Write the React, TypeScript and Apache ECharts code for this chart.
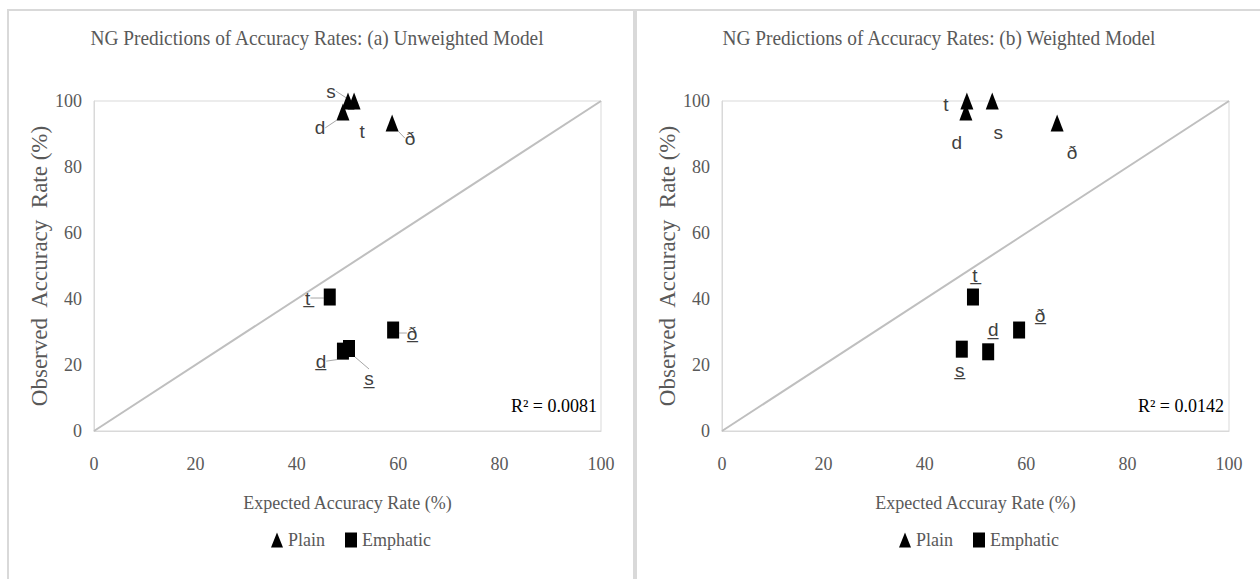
import React, { useEffect, useRef } from "react";
import * as echarts from "echarts";

// ---------- data ----------
const axisTicks = [0, 20, 40, 60, 80, 100];

// (a) Unweighted model
const unwPlainX = [50.1, 51.3, 49.1, 58.8];
const unwPlainY = [100, 100, 96.7, 93.3];
const unwPlainLabels = ["s", "t", "d", "ð"];
const unwEmphX = [46.5, 59.0, 49.1, 50.3];
const unwEmphY = [40.6, 30.6, 24.2, 25.0];
const unwEmphLabels = ["t\u0332", "ð\u0332", "d\u0332", "s\u0332"];
const unwR2 = "R² = 0.0081";

// (b) Weighted model
const wPlainX = [48.3, 48.1, 53.3, 66.1];
const wPlainY = [100, 96.7, 100, 93.3];
const wPlainLabels = ["t", "d", "s", "ð"];
const wEmphX = [49.5, 47.3, 52.5, 58.6];
const wEmphY = [40.6, 24.8, 24.0, 30.6];
const wEmphLabels = ["t\u0332", "s\u0332", "d\u0332", "ð\u0332"];
const wR2 = "R² = 0.0142";

const diagonal = [
  [0, 0],
  [100, 100],
];

const titles = [
  "NG Predictions of Accuracy Rates: (a) Unweighted Model",
  "NG Predictions of Accuracy Rates: (b) Weighted Model",
];
const xNames = ["Expected Accuracy Rate (%)", "Expected Accuray Rate (%)"];
const yName = "Observed  Accuracy  Rate (%)";

// ---------- styling (label offsets etc.) ----------
const unwPlainOff = [[-17, -10], [8, 30], [-23, 16], [18, 15]];
const unwPlainLead = [true, false, true, true];
const unwEmphOff = [[-22, 1], [19, 3], [-22, 10], [20, 30]];
const unwEmphLead = [true, true, true, true];
const wPlainOff = [[-21, 3], [-9, 31], [6, 31], [15, 29]];
const wEmphOff = [[2, -22], [-2, 21], [5, -22], [21, -15]];
const noLead = [false, false, false, false];

const SERIF = "'Liberation Serif', 'Times New Roman', serif";
const SANS = "'Liberation Sans', Arial, sans-serif";
const GRAY = "#595959";
const LINE = "#d9d9d9";

function makeScatter(
  name: string,
  symbol: string,
  size: number[],
  xs: number[],
  ys: number[],
  labels: string[],
  offs: number[][],
  leads: boolean[],
  idx: number
) {
  return {
    type: "scatter",
    name,
    xAxisIndex: idx,
    yAxisIndex: idx,
    symbol,
    symbolSize: size,
    itemStyle: { color: "#000", opacity: 1 },
    z: 5,
    label: {
      show: true,
      position: "inside",
      fontFamily: SANS,
      fontSize: 19,
      color: "#404040",
      formatter: (p: any) => labels[p.dataIndex],
    },
    labelLine: { show: true, lineStyle: { color: "#a6a6a6", width: 1 } },
    labelLayout: (p: any) => ({ dx: offs[p.dataIndex][0], dy: offs[p.dataIndex][1] }),
    data: xs.map((x, i) => ({
      value: [x, ys[i]],
      labelLine: { show: leads[i] },
    })),
  };
}

export default function App() {
  const ref = useRef<HTMLDivElement>(null);
  useEffect(() => {
    if (!ref.current) return;
    const chart = echarts.init(ref.current, undefined, { renderer: "svg" });
    const grids = [
      { left: 94, top: 101, width: 507, height: 330 },
      { left: 722, top: 101, width: 507, height: 330 },
    ];
    const xAxes = grids.map((_, i) => ({
      type: "value",
      gridIndex: i,
      min: axisTicks[0],
      max: axisTicks[axisTicks.length - 1],
      interval: axisTicks[1] - axisTicks[0],
      axisLine: { show: true, lineStyle: { color: LINE } },
      axisTick: { show: false },
      splitLine: { show: false },
      axisLabel: { margin: 24, fontSize: 18, color: GRAY, fontFamily: SERIF },
      name: xNames[i],
      nameLocation: "middle",
      nameGap: 63,
      nameTextStyle: { fontSize: 18, color: GRAY, fontFamily: SERIF },
    }));
    const yAxes = grids.map((_, i) => ({
      type: "value",
      gridIndex: i,
      min: axisTicks[0],
      max: axisTicks[axisTicks.length - 1],
      interval: axisTicks[1] - axisTicks[0],
      axisLine: { show: true, lineStyle: { color: LINE } },
      axisTick: { show: false },
      splitLine: { show: false },
      axisLabel: { margin: 12, fontSize: 18, color: GRAY, fontFamily: SERIF },
      name: yName,
      nameLocation: "middle",
      nameGap: 40,
      nameTextStyle: { fontSize: 23, color: GRAY, fontFamily: SERIF },
    }));
    const diagSeries = [0, 1].map((i) => ({
      type: "line",
      xAxisIndex: i,
      yAxisIndex: i,
      data: diagonal,
      showSymbol: false,
      silent: true,
      z: 1,
      lineStyle: { color: "#bfbfbf", width: 2 },
    }));
    const legendData = [
      { name: "Plain", icon: "triangle" },
      { name: "Emphatic", icon: "rect" },
    ];
    const legends = [266, 894].map((left) => ({
      left,
      top: 526,
      data: legendData,
      itemWidth: 12,
      itemHeight: 15,
      itemGap: 20,
      textStyle: { fontFamily: SERIF, fontSize: 18, color: GRAY },
    }));
    const titleCenters = [317, 939];
    chart.setOption({
      animation: false,
      legend: legends,
      grid: grids.map((g) => ({ ...g, show: true, borderColor: LINE, borderWidth: 1 })),
      xAxis: xAxes,
      yAxis: yAxes,
      graphic: [
        { type: "rect", shape: { x: 8, y: 10, width: 626, height: 620 }, style: { fill: "none", stroke: LINE, lineWidth: 2 }, silent: true },
        { type: "rect", shape: { x: 636, y: 10, width: 640, height: 620 }, style: { fill: "none", stroke: LINE, lineWidth: 2 }, silent: true },
        ...titles.map((t, i) => ({
          type: "text",
          x: titleCenters[i],
          y: 38,
          scaleX: 0.88,
          style: {
            text: t,
            font: `22px ${SERIF}`,
            fill: GRAY,
            textAlign: "center",
            textVerticalAlign: "middle",
          },
        })),
        { type: "text", x: 597, y: 406, style: { text: unwR2, font: `18px ${SERIF}`, fill: "#000", textAlign: "right", textVerticalAlign: "middle" } },
        { type: "text", x: 1224, y: 406, style: { text: wR2, font: `18px ${SERIF}`, fill: "#000", textAlign: "right", textVerticalAlign: "middle" } },
      ],
      series: [
        ...diagSeries,
        makeScatter("Plain", "triangle", [13, 17], unwPlainX, unwPlainY, unwPlainLabels, unwPlainOff, unwPlainLead, 0),
        makeScatter("Emphatic", "rect", [12, 17], unwEmphX, unwEmphY, unwEmphLabels, unwEmphOff, unwEmphLead, 0),
        makeScatter("Plain", "triangle", [13, 17], wPlainX, wPlainY, wPlainLabels, wPlainOff, noLead, 1),
        makeScatter("Emphatic", "rect", [12, 17], wEmphX, wEmphY, wEmphLabels, wEmphOff, noLead, 1),
      ],
    });
    return () => chart.dispose();
  }, []);
  return (
    <div
      ref={ref}
      style={{ position: "fixed", left: 0, top: 0, width: 1260, height: 579, background: "#fff" }}
    />
  );
}
